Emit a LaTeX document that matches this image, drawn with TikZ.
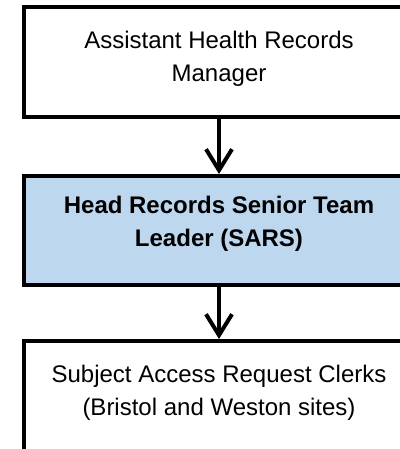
\documentclass[tikz,border=0pt]{standalone}
\usepackage{fontspec}
\setmainfont{Liberation Sans}
\usetikzlibrary{positioning, arrows.meta}
\definecolor{sarsblue}{RGB}{189,215,238}

\begin{document}
\begin{tikzpicture}[x=1pt, y=-1pt,
  post/.style={draw, line width=4pt, minimum width=390pt, align=center,
    font=\fontsize{24}{33}\selectfont},
  link/.style={line width=4pt, -{Straight Barb[length=21pt, width=26pt]}}]
\useasboundingbox (0,0) rectangle (399,449);
\node[post, minimum height=110pt, text height=50pt, text depth=10pt] (manager) at (219, 62) {Assistant Health Records\\Manager};
\node[post, minimum height=109pt, text height=51pt, text depth=20pt, fill=sarsblue, font=\fontsize{24}{33}\selectfont\bfseries, below=55pt of manager] (leader) {Head Records Senior Team\\Leader (SARS)};
\node[post, inner ysep=22pt, text height=52pt, text depth=90pt, below=52pt of leader] (clerks) {Subject Access Request Clerks\\(Bristol and Weston sites)};
\foreach \from/\to in {manager/leader, leader/clerks}
\draw [link] (\from) -- (\to);
\end{tikzpicture}
\end{document}
